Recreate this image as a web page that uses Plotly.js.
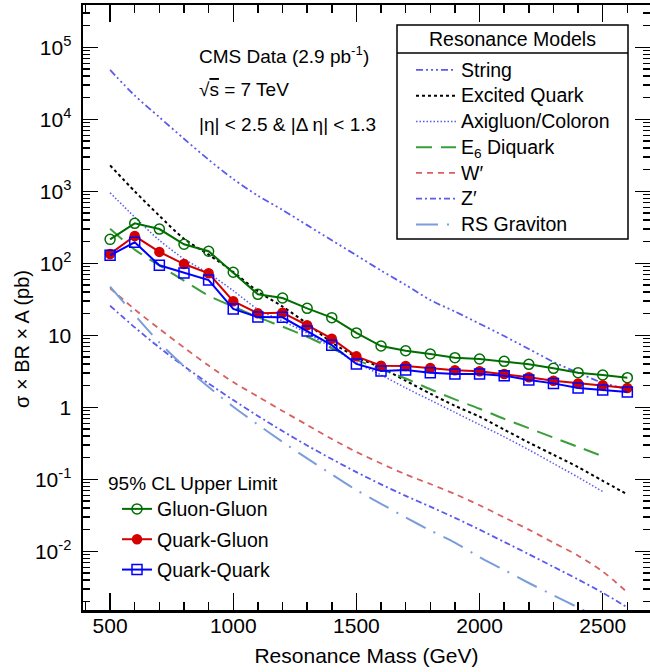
<!DOCTYPE html>
<html><head><meta charset="utf-8">
<script src="https://cdn.plot.ly/plotly-3.0.1.min.js"></script>
<style>html,body{margin:0;padding:0;background:#fff;overflow:hidden}</style>
</head><body><div id="chart" style="width:650px;height:672px"></div>
<script>
// ---- data points (95% CL upper limits) ----
const massPoints = [500,600,700,800,900,1000,1100,1200,1300,1400,1500,1600,1700,1800,1900,2000,2100,2200,2300,2400,2500,2600];
const gluonGluon = [215,359,299,184,147,75,37.1,33,23.7,17.6,10.8,7.1,6.1,5.5,4.89,4.69,4.35,3.95,3.48,3.03,2.81,2.58];
const quarkGluon = [135,239,144,97.7,72.6,29.7,20.2,20.6,13.8,8.97,5.1,3.78,3.75,3.51,3.27,3.16,2.9,2.61,2.34,2.15,2.02,1.85];
const quarkQuark = [129,196,93.8,73.3,58.6,23.2,17.9,17.8,11.5,7.3,4.0,3.2,3.3,3.03,2.9,2.9,2.75,2.39,2.15,1.85,1.74,1.63];

// ---- resonance model curves ----
const modelMass = [500,600,700,800,900,1000,1100,1200,1300,1400,1500,1600,1700,1800,1900,2000,2100,2200,2300,2400,2500,2600];
const modelMassShort = [500,600,700,800,900,1000,1100,1200,1300,1400,1500,1600,1700,1800,1900,2000,2100,2200,2300,2400,2500];
const stringModel = [48400,21400,10700,5370,2750,1480,870,550,339,209,129,79.4,50.1,30.9,21.4,14.5,9.77,6.46,4.27,3.02,2.19,1.78];
const excitedQuark = [2290,1000,457,219,132,75.9,40.7,25.1,14.5,7.94,5.01,3.55,2.34,1.55,1.05,0.741,0.49,0.324,0.219,0.148,0.0955,0.0617];
const axigluon = [955,437,209,115,72.4,41.7,22.9,15.8,10.7,6.76,4.17,2.82,1.86,1.26,0.851,0.575,0.389,0.257,0.166,0.107,0.0676];
const e6Diquark = [302,155,93.3,57.5,35.5,25.1,17.8,13.2,9.55,6.61,4.57,3.39,2.51,1.78,1.29,0.955,0.692,0.513,0.380,0.282,0.209];
const wPrime = [45.0,22.9,12.3,6.76,3.80,2.24,1.41,0.891,0.569,0.363,0.240,0.166,0.117,0.0861,0.0624,0.0437,0.0295,0.0200,0.0132,0.0087,0.00525,0.00269];
const zPrime = [25.7,12.9,6.76,3.72,2.14,1.26,0.759,0.468,0.295,0.191,0.126,0.0851,0.0589,0.0417,0.0292,0.0200,0.0135,0.00912,0.00610,0.00407,0.00266,0.00166];
const rsGraviton = [47.3,19.1,7.94,3.72,1.91,1.02,0.575,0.331,0.195,0.117,0.0708,0.0457,0.0295,0.0195,0.0132,0.00832,0.0055,0.00363,0.00245,0.00166,0.00112];

const yTickVals = [1e-2,1e-1,1,10,100,1e3,1e4,1e5];
const yTickText = ['10<sup>-2</sup>','10<sup>-1</sup>','1','10','10<sup>2</sup>','10<sup>3</sup>','10<sup>4</sup>','10<sup>5</sup>'];

const FONT = 'Liberation Sans, Arial, Helvetica, sans-serif';
const big = t => '<span style="font-size:19.5px">' + t + '</span>';

function model(name, x, y, color, dash, width) {
  return {x:x, y:y, name:big(name), type:'scatter', mode:'lines', legend:'legend',
          line:{color:color, dash:dash, width:width||1.8, shape:'spline', smoothing:0.8}, hoverinfo:'skip'};
}
function limit(name, y, color, symbol, size, group) {
  return {x:massPoints, y:y, name:name, type:'scatter', mode:'lines+markers', legend:'legend2',
          legendgroup:group,
          line:{color:color, width:2}, marker:{symbol:symbol, size:size, color:color, line:{color:color, width:1.5}}};
}

const traces = [
  model('String', modelMass, stringModel, '#5a5af0', '7px,3px,2px,3px,2px,3px,2px,3px'),
  model('Excited Quark', modelMass, excitedQuark, '#000000', '3px,3px', 2),
  model('Axigluon/Coloron', modelMassShort, axigluon, '#5a5af0', '1.5px,2px', 1.5),
  model('E<sub>6</sub> Diquark', modelMassShort, e6Diquark, '#3a9e3a', '16px,9px', 2),
  model('W′', modelMass, wPrime, '#d86060', '6px,5px', 1.8),
  model('Z′', modelMass, zPrime, '#5a5af0', '6px,3px,2px,3px', 1.8),
  model('RS Graviton', modelMassShort, rsGraviton, '#7b9ddb', '22px,9px,2px,9px', 2),
  limit('Gluon-Gluon', gluonGluon, '#006e00', 'circle-open', 10, 'g1'),
  limit('Quark-Gluon', quarkGluon, '#d40000', 'circle', 9, 'g2'),
  limit('Quark-Quark', quarkQuark, '#0000ff', 'square-open', 10, 'g3')
];

// pixel helpers for paper coordinates (plot area: x 83..650, y 5..610)
const px = v => (v-83)/567;
const py = v => (610-v)/605;

const layout = {
  width:650, height:672,
  margin:{l:83, r:0, t:5, b:62},
  paper_bgcolor:'#ffffff', plot_bgcolor:'#ffffff',
  font:{family:FONT, size:19, color:'#000'},
  showlegend:true,
  xaxis:{range:[390,2692], tickmode:'linear', tick0:0, dtick:500,
         ticks:'inside', ticklen:17, tickwidth:1.5, tickcolor:'#000',
         showline:true, linecolor:'#000', linewidth:2.5, mirror:'allticks',
         showgrid:false, zeroline:false, tickfont:{size:21, family:FONT}, ticklabelstandoff:-5,
         title:{text:'Resonance Mass (GeV)', font:{size:21, family:FONT}, standoff:13},
         minor:{dtick:100, ticks:'inside', ticklen:8, tickwidth:1.5, tickcolor:'#000', showgrid:false}},
  yaxis:{type:'log', range:[-2.815,5.5875], tickmode:'array', tickvals:yTickVals, ticktext:yTickText,
         ticks:'inside', ticklen:15, tickwidth:1.5, tickcolor:'#000',
         showline:true, linecolor:'#000', linewidth:2.5, mirror:'allticks',
         showgrid:false, zeroline:false, tickfont:{size:21, family:FONT}, ticklabelstandoff:5,
         minor:{dtick:'D1', ticks:'inside', ticklen:7, tickwidth:1.5, tickcolor:'#000', showgrid:false}},
  legend:{x:px(411), y:py(52), xanchor:'left', yanchor:'top', bgcolor:'rgba(0,0,0,0)', borderwidth:0,
          font:{size:17.5, family:FONT}, tracegroupgap:0, itemwidth:40},
  legend2:{x:px(106), y:py(465), xanchor:'left', yanchor:'top', bgcolor:'rgba(0,0,0,0)', borderwidth:0,
           font:{size:19.5, family:FONT}, tracegroupgap:2, indentation:11,
           title:{text:'95% CL Upper Limit', font:{size:19, family:FONT}}},
  shapes:[
    {type:'rect', xref:'paper', yref:'paper', x0:px(397), x1:px(628), y0:py(239), y1:py(25),
     line:{color:'#000', width:1.5}, fillcolor:'#ffffff', layer:'below'},
    {type:'line', xref:'paper', yref:'paper', x0:px(397), x1:px(628), y0:py(53), y1:py(53),
     line:{color:'#000', width:1.5}}
  ],
  annotations:[
    {text:'Resonance Models', xref:'paper', yref:'paper', x:px(512.5), y:py(39), showarrow:false,
     xanchor:'center', yanchor:'middle', font:{size:19.5, family:FONT}},
    {text:'CMS Data (2.9 pb<sup>-1</sup>)', xref:'paper', yref:'paper', x:px(197), y:py(55), showarrow:false,
     xanchor:'left', yanchor:'middle', font:{size:19, family:FONT}},
    {text:'√<span style="text-decoration:overline">s</span> = 7 TeV', xref:'paper', yref:'paper', x:px(197), y:py(89), showarrow:false,
     xanchor:'left', yanchor:'middle', font:{size:19, family:FONT}},
    {text:'|η| < 2.5 & |Δ η| < 1.3', xref:'paper', yref:'paper', x:px(197), y:py(124), showarrow:false,
     xanchor:'left', yanchor:'middle', font:{size:19, family:FONT}},
    {text:'σ × BR × A (pb)', xref:'paper', yref:'paper', x:px(22), y:py(339), showarrow:false, textangle:-90,
     xanchor:'center', yanchor:'middle', font:{size:20, family:FONT}}
  ]
};

Plotly.newPlot('chart', traces, layout, {displayModeBar:false, staticPlot:true});
</script></body></html>
